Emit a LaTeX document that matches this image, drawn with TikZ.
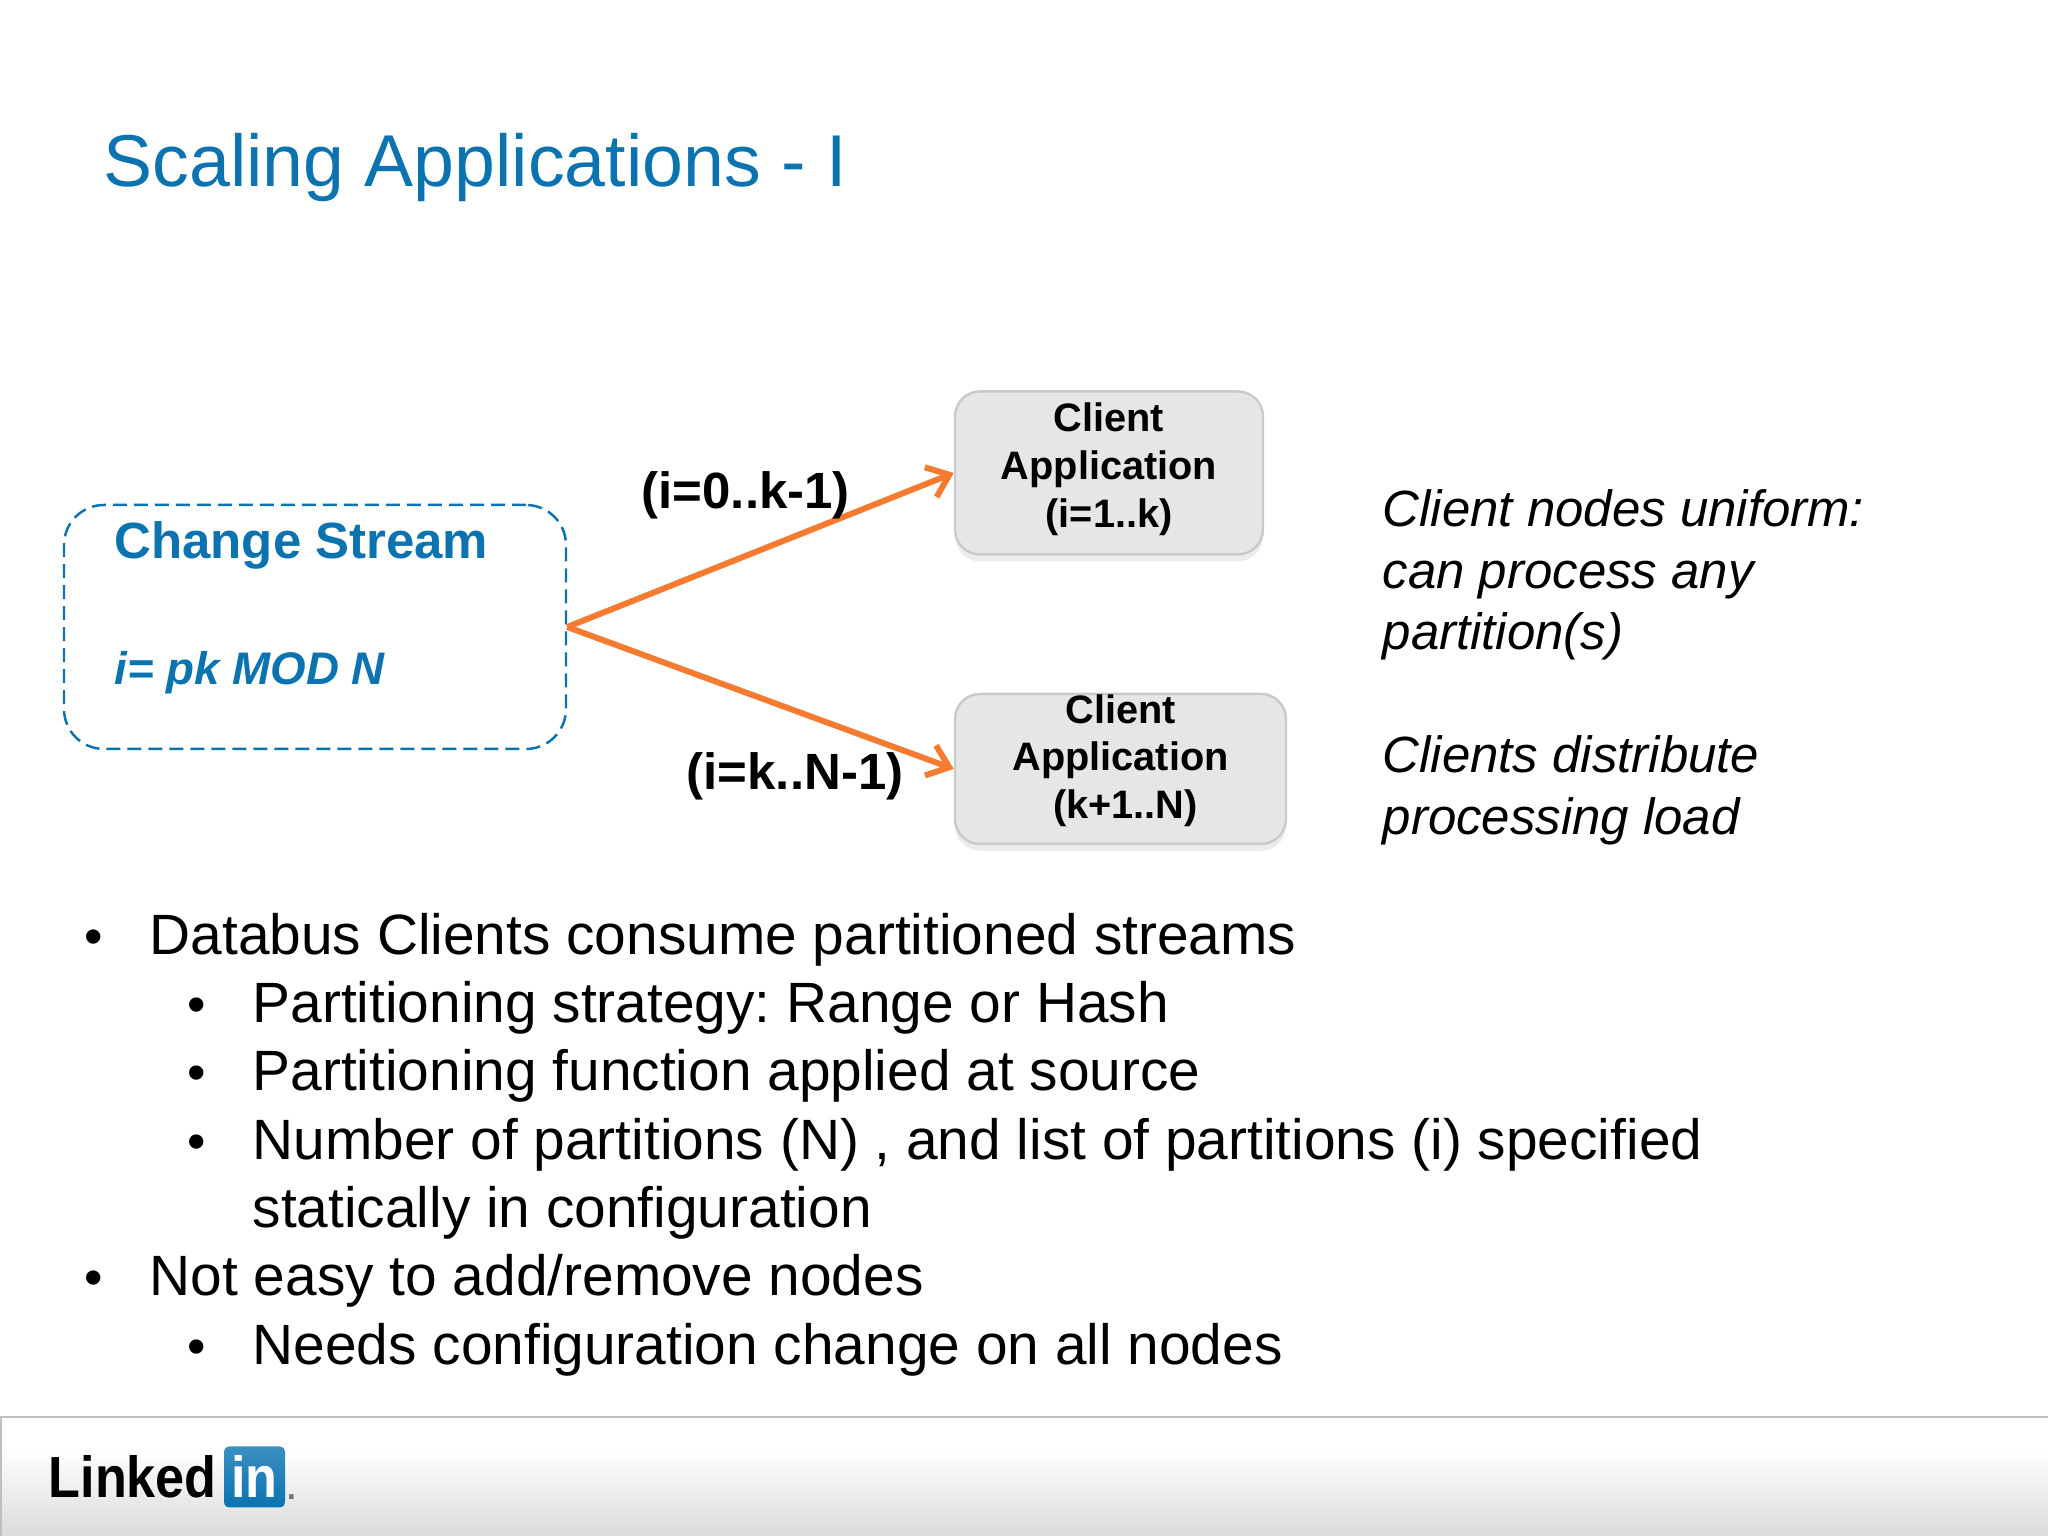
\documentclass[tikz,border=0pt]{standalone}
\usepackage{fontspec}
\setmainfont{Liberation Sans}
\usetikzlibrary{shapes,shadows,arrows.meta,positioning}
\frenchspacing
\definecolor{lnblue}{HTML}{0A73B0}
\definecolor{lnorange}{HTML}{F47B30}
\definecolor{lnbox}{HTML}{E6E6E9}
\definecolor{lnedge}{HTML}{CACACC}
\pgfdeclareverticalshading{footershade}{100bp}{color(0bp)=(black!15); color(25bp)=(black!15); color(50bp)=(black!5); color(62bp)=(white); color(100bp)=(white)}
\tikzstyle{slidetitle} = [inner sep=0pt, anchor=base west, text=lnblue, font=\fontsize{20.9}{25}\selectfont]
\tikzstyle{stream} = [draw=lnblue, line width=0.7pt, dash pattern=on 0.14cm off 0.07cm, rounded corners=0.4cm, minimum width=5.02cm, minimum height=2.44cm]
\tikzstyle{streamname} = [inner sep=0pt, anchor=base west, text=lnblue, font=\fontsize{14.5}{17}\selectfont\bfseries]
\tikzstyle{streamkey} = [inner sep=0pt, anchor=base west, text=lnblue, font=\fontsize{13}{16}\selectfont\bfseries\itshape]
\tikzstyle{client} = [draw=lnedge, line width=0.7pt, fill=lnbox, rounded corners=0.25cm, align=center, inner sep=0pt, font=\fontsize{11.3}{13.6}\selectfont\bfseries, drop shadow={shadow xshift=0pt, shadow yshift=-0.07cm, opacity=0.15}]
\tikzstyle{rangelabel} = [inner sep=0pt, anchor=base west, font=\fontsize{14.5}{17}\selectfont\bfseries]
\tikzstyle{note} = [inner sep=0pt, anchor=north west, align=left, font=\fontsize{14.5}{17.55}\selectfont\itshape]
\tikzstyle{bodytext} = [inner sep=0pt, anchor=base west, font=\fontsize{16.17}{19}\selectfont]
\tikzstyle{bodymark} = [inner sep=0pt, anchor=base, font=\fontsize{15}{19}\selectfont]
\tikzstyle{arrow} = [draw, color=lnorange, line width=1.7pt, -{Straight Barb[length=0.2cm,width=0.32cm,line width=1.7pt]}]
\tikzstyle{footer} = [draw=black!25, line width=0.7pt, shading=footershade, minimum width=20.48cm, minimum height=1.25cm, inner sep=0pt]
\newcommand{\client}[3]{node (c#1) [client, minimum width=#2, minimum height=#3]}
\newcommand{\rangelabel}[2]{node (r#1) [rangelabel] {#2}}
\newcommand{\note}[2]{node (n#1) [note] {#2}}
\newcommand{\bodyline}[2]{node (t#1) [bodytext] {#2}}
\newcommand{\bodymark}[1]{\path (t#1.base west)+(-0.55,0) node (m#1) [bodymark] {\textbullet};}

\begin{document}
\begin{tikzpicture}
\useasboundingbox (0,0) rectangle (20.48,15.36);
\path (1.03,13.49) node (h1) [slidetitle] {Scaling Applications - I};

\path (3.15,9.09) node (s1) [stream] {};
\path (s1.north west)+(0.51,-0.55) node (s2) [streamname] {Change Stream};
\path (s2.base west)+(0,-1.26) node (s3) [streamkey] {i= pk MOD N};

\path (11.09,10.63) \client{1}{3.08cm}{1.63cm} {Client\\Application\\(i=1..k)\rule[-0.16cm]{0pt}{0.16cm}};
\path (c1)+(0.115,-2.96) \client{2}{3.31cm}{1.5cm} {Client\\Application\\\hspace*{0.1cm}(k+1..N)\rule[-0.25cm]{0pt}{0.25cm}};

\path [arrow] (s1.east) -- (c1.west);
\path [arrow] (s1.east) -- (c2.west);

\path (c1)+(-4.68,-0.36) \rangelabel{1}{(i=0..k-1)};
\path (c2)+(-4.345,-0.21) \rangelabel{2}{(i=k..N-1)};

\path (13.82,10.47) \note{1}{Client nodes uniform:\\can process any\\partition(s)};
\path (n1.south west)+(0,-0.74) \note{2}{Clients distribute\\processing load};

\path (1.49,5.81) \bodyline{1}{Databus Clients consume partitioned streams};
\path (t1.base west)+(1.03,-0.68) \bodyline{2}{Partitioning strategy: Range or Hash};
\path (t2.base west)+(0,-0.68) \bodyline{3}{Partitioning function applied at source};
\path (t3.base west)+(0,-0.69) \bodyline{4}{Number of partitions (N) , and list of partitions (i) specified};
\path (t4.base west)+(0,-0.68) \bodyline{5}{statically in configuration};
\path (t1.base west)+(0,-3.41) \bodyline{6}{Not easy to add/remove nodes};
\path (t6.base west)+(1.03,-0.69) \bodyline{7}{Needs configuration change on all nodes};
\bodymark{1}
\bodymark{2}
\bodymark{3}
\bodymark{4}
\bodymark{6}
\bodymark{7}

% footer with logo
\path (10.25,0.565) node (f1) [footer] {};
\path (0.48,0.38) node (l1) [inner sep=0pt, anchor=base west, xscale=0.9, font=\fontsize{16.5}{20}\selectfont\bfseries] {Linked};
\path (2.545,0.59) node (l2) [inner sep=0pt, minimum size=0.61cm, rounded corners=0.05cm, top color=lnblue!80, bottom color=lnblue, text=white, font=\fontsize{16.5}{20}\selectfont\bfseries] {\scalebox{0.9}[1]{in}};
\path (l2.east)+(0.06,-0.2) node (l3) [inner sep=0pt, text=black!55, font=\fontsize{13}{14}\selectfont] {.};
\end{tikzpicture}
\end{document}
